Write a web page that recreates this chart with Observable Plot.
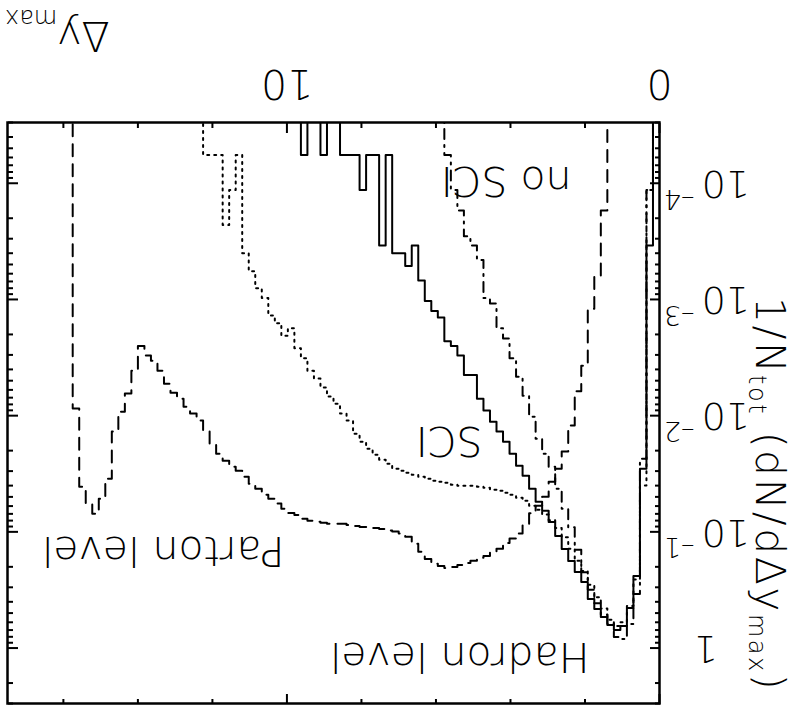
<!DOCTYPE html>
<html><head><meta charset="utf-8">
<script src="https://cdn.jsdelivr.net/npm/d3@7"></script>
<script src="https://cdn.jsdelivr.net/npm/@observablehq/plot@0.6"></script>
<style>
html,body{margin:0;padding:0;background:#fff;}
#chart{width:800px;height:712px;transform:rotate(180deg);transform-origin:400px 356px;}
#chart svg{display:block;}
</style></head><body><div id="chart"></div>
<script>
// Histogram counts per bin (bin width 0.175 in Δy_max, 100000 events)
const N_EVENTS = 100000;
const BIN_WIDTH = 0.175;

const hadronSCI = [0,6,500,4190,7900,11300,12240,11090,9460,8070, 6620,4725,3870,3110,2455,1897,1436,1153,964,745, 575,472,372,293,240,197,158,125,78,78, 53,44,40,25,22,18,12,6,9,7, 7,1,6,1,1,2,1,1,1,0, 0,1,0,0,1,0];
const hadronNoSCI = [0,2,411,6000,10870,14650,14060,10800,9000,7200, 5500,3900,2500,1600,1109,745,482,372,276,179, 118,81,56,38,31,19,17,8,6,5, 3,2,1,0];
const partonSCI = [0,2,700,4500,7600,10500,11300,10000,8000,6400, 5000,3800,3100,2450,1950,1620,1390,1240,1130,1045, 946,891,839,807,775,760,731,716,703,703, 703,689,662,649,637,611,587,565,543,521, 501,454,419,380,337,293,250,193,168,138, 120,100,84,72,56,46,31,36,28,24, 17,14,10,7,1,2,4,1,1,1, 0];
const partonNoSCI = [0,0,0,0,0,0,0,0,3,11, 21,65,108,213,356,500,648,871,1045,1211, 1540,1810,2000,2180,2450,2600,2820,2930,3100,3240, 3370,3510,3580,3440,3300,2990,2600,2220,1930,1810, 1740,1700,1650,1620,1590,1590,1560,1530,1493,1490, 1490,1460,1430,1406,1352,1250,1202,1109,1000,910, 839,745,675,587,521,482,428,372,305,240, 193,168,147,125,111,93,72,59,53,44, 72,113,162,240,611,910,1224,1000,716,152, 0];

const xMajorTicks = [0, 10];
const xMinorTicks = [2, 4, 6, 8, 12, 14, 16];
const xTickLabels = ["0", "10"];
const yPowerTicks = [1e-4, 1e-3, 1e-2, 1e-1];
const yPowerExp = ["\u20134", "\u20133", "\u20132", "\u20131"];
const yUnitTick = [1];
const annotations = [
  {text: "Hadron level", dx: 70, dy: 61},
  {text: "Parton level", dx: 375, dy: 167},
  {text: "SCI", dx: 177, dy: 277},
  {text: "no SCI", dx: 88, dy: 537}
];

const FONT = "DejaVu Sans";
const W = 800, H = 712, ML = 140, MR = 8, MT = 8, MB = 123;
const PW = W - ML - MR, PH = H - MT - MB;
const Y_DOMAIN = [3e-5, 3];

function steps(counts) {
  const pts = counts.map((c, i) => ({x: i * BIN_WIDTH, y: c > 0 ? c / (N_EVENTS * BIN_WIDTH) : 1e-9}));
  pts.push({x: counts.length * BIN_WIDTH, y: 1e-9});
  return pts;
}

const series = [
  {counts: hadronSCI, dash: null},
  {counts: hadronNoSCI, dash: "10,6,2,6"},
  {counts: partonSCI, dash: "2,5"},
  {counts: partonNoSCI, dash: "12,8"}
];

const yAll = d3.scaleLog().domain(Y_DOMAIN).ticks();
const yMajor = yAll.filter(v => Math.abs(Math.log10(v) - Math.round(Math.log10(v))) < 1e-9);
const yMinor = yAll.filter(v => !yMajor.includes(v));

const txt = {fontFamily: FONT, fontWeight: 200, fill: "black"};

const chart = Plot.plot({
  width: W, height: H,
  marginLeft: ML, marginRight: MR, marginTop: MT, marginBottom: MB,
  style: {fontFamily: FONT, background: "white", overflow: "visible"},
  x: {domain: [0, 17.5], axis: null},
  y: {type: "log", domain: Y_DOMAIN, axis: null},
  marks: [
    ...series.map(s => Plot.line(steps(s.counts), {
      x: "x", y: "y", curve: "step-after", stroke: "black", strokeWidth: 2,
      strokeDasharray: s.dash, clip: true
    })),
    // x ticks (inward, both sides)
    Plot.ruleX(xMinorTicks, {x: d => d, insetTop: PH - 5, stroke: "black", strokeWidth: 2}),
    Plot.ruleX(xMinorTicks, {x: d => d, insetBottom: PH - 5, stroke: "black", strokeWidth: 2}),
    Plot.ruleX(xMajorTicks, {x: d => d, insetTop: PH - 10, stroke: "black", strokeWidth: 2}),
    Plot.ruleX(xMajorTicks, {x: d => d, insetBottom: PH - 10, stroke: "black", strokeWidth: 2}),
    // y ticks (inward, both sides)
    Plot.ruleY(yMinor, {y: d => d, insetRight: PW - 5, stroke: "black", strokeWidth: 2}),
    Plot.ruleY(yMinor, {y: d => d, insetLeft: PW - 5, stroke: "black", strokeWidth: 2}),
    Plot.ruleY(yMajor, {y: d => d, insetRight: PW - 10, stroke: "black", strokeWidth: 2}),
    Plot.ruleY(yMajor, {y: d => d, insetLeft: PW - 10, stroke: "black", strokeWidth: 2}),
    Plot.frame({stroke: "black", strokeWidth: 2.5}),
    // tick labels
    Plot.text(xMajorTicks, {x: d => d, text: (d, i) => xTickLabels[i], frameAnchor: "bottom",
      lineAnchor: "bottom", dy: 53, fontSize: 41, ...txt}),
    Plot.text(yPowerTicks, {y: d => d, text: () => "10", frameAnchor: "left",
      textAnchor: "end", dx: -42, fontSize: 38, ...txt}),
    Plot.text(yPowerTicks, {y: d => d, text: (d, i) => yPowerExp[i], frameAnchor: "left",
      textAnchor: "start", dx: -35, dy: -15, fontSize: 27, ...txt}),
    Plot.text(yUnitTick, {y: d => d, text: () => "1", frameAnchor: "left",
      textAnchor: "end", dx: -34, fontSize: 38, ...txt}),
    // annotations
    ...annotations.map(a => Plot.text([a], {text: "text", frameAnchor: "top-left", textAnchor: "start",
      lineAnchor: "bottom", dx: a.dx, dy: a.dy, fontSize: 41, ...txt}))
  ]
});

document.getElementById("chart").appendChild(chart);

const svg = d3.select(chart);
// y-axis title
const yt = svg.append("text")
  .attr("transform", `translate(44,415) rotate(-90)`)
  .attr("text-anchor", "start")
  .attr("font-family", FONT).attr("font-weight", 200).attr("font-size", 41)
  .attr("letter-spacing", 2.5).attr("fill", "black");
yt.append("tspan").text("1/N");
yt.append("tspan").attr("font-size", 24).attr("dy", 7).text("tot");
yt.append("tspan").attr("dy", -7).text(" (dN/d\u0394y");
yt.append("tspan").attr("font-size", 24).attr("dy", 7).text("max");
yt.append("tspan").attr("dy", -7).text(")");
// x-axis title
const xt = svg.append("text")
  .attr("x", 795).attr("y", 690).attr("text-anchor", "end")
  .attr("font-family", FONT).attr("font-weight", 200).attr("font-size", 41).attr("fill", "black");
xt.append("tspan").text("\u0394y");
xt.append("tspan").attr("font-size", 24).attr("dy", 12).text("max");
</script>
</body></html>
